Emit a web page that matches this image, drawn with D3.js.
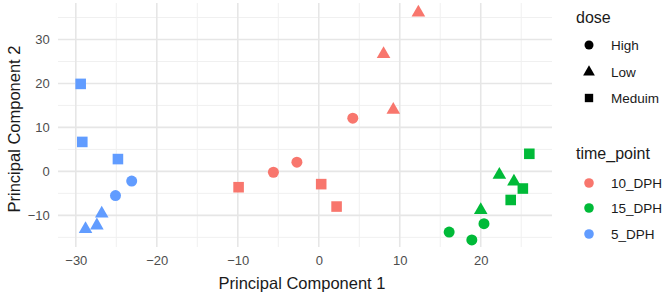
<!DOCTYPE html>
<html><head><meta charset="utf-8">
<script src="https://cdn.jsdelivr.net/npm/d3@7"></script>
<style>body{margin:0;background:#fff}svg{display:block;font-family:"Liberation Sans",Arial,sans-serif}</style>
</head><body><svg id="c" width="669" height="301"></svg>
<script>
const pc1 = [-29.4,-29.2,-24.8,-23.1,-25.1,-26.8,-27.4,-28.8, -9.9,-5.6,-2.7,0.3,2.2,4.2,9.2,8.0,12.3, 16.1,18.9,20.4,20.0,22.3,24.1,25.2,23.7,26.0];
const pc2 = [19.9,6.7,2.8,-2.2,-5.5,-9.6,-12.3,-13.1, -3.6,-0.2,2.1,-2.9,-8.0,12.1,14.0,26.7,36.1, -13.8,-15.6,-11.9,-8.8,-0.8,-2.3,-3.9,-6.5,4.0];
const dose = ["Meduim","Meduim","Meduim","High","High","Low","Low","Low",
  "Meduim","High","High","Meduim","Meduim","High","Low","Low","Low",
  "High","High","High","Low","Low","Low","Meduim","Meduim","Meduim"];
const timePoint = ["5_DPH","5_DPH","5_DPH","5_DPH","5_DPH","5_DPH","5_DPH","5_DPH",
  "10_DPH","10_DPH","10_DPH","10_DPH","10_DPH","10_DPH","10_DPH","10_DPH","10_DPH",
  "15_DPH","15_DPH","15_DPH","15_DPH","15_DPH","15_DPH","15_DPH","15_DPH","15_DPH"];
const doseLevels = ["High","Low","Meduim"];
const timeLevels = ["10_DPH","15_DPH","5_DPH"];
const timeColors = ["#F8766D","#00BA38","#619CFF"];
const xTicks = [-30,-20,-10,0,10,20];
const yTicks = [-10,0,10,20,30];

const svg = d3.select("#c");
const L=58, R=552, T=3, B=247;
const x = d3.scaleLinear().domain([-32.2,28.8]).range([L,R]);
const y = d3.scaleLinear().domain([-17.2,38.3]).range([B,T]);
const color = d3.scaleOrdinal().domain(timeLevels).range(timeColors);
const shape = d3.scaleOrdinal().domain(doseLevels).range([d3.symbolCircle,d3.symbolTriangle,d3.symbolSquare]);
const sizes = {High:95, Low:80, Meduim:112};

const g = svg.append("g");
const xMinor = [-25,-15,-5,5,15,25];
const yMinor = [-15,-5,5,15,25,35];
g.selectAll(".xm").data(xMinor).join("line").attr("x1",d=>x(d)).attr("x2",d=>x(d)).attr("y1",T).attr("y2",B).attr("stroke","#f0f0f0").attr("stroke-width",1);
g.selectAll(".ym").data(yMinor).join("line").attr("y1",d=>y(d)).attr("y2",d=>y(d)).attr("x1",L).attr("x2",R).attr("stroke","#f0f0f0").attr("stroke-width",1);
g.selectAll(".xM").data(xTicks).join("line").attr("x1",d=>x(d)).attr("x2",d=>x(d)).attr("y1",T).attr("y2",B).attr("stroke","#e6e6e6").attr("stroke-width",1.6);
g.selectAll(".yM").data(yTicks).join("line").attr("y1",d=>y(d)).attr("y2",d=>y(d)).attr("x1",L).attr("x2",R).attr("stroke","#e6e6e6").attr("stroke-width",1.6);

const fmt = d=>d3.format("")(d).replace("-","\u2212");
const xa = svg.append("g").attr("transform",`translate(0,${B+4})`).call(d3.axisBottom(x).tickValues(xTicks).tickSize(0).tickFormat(fmt));
const ya = svg.append("g").attr("transform",`translate(${L-4},0)`).call(d3.axisLeft(y).tickValues(yTicks).tickSize(0).tickFormat(fmt));
[xa,ya].forEach(a=>{a.select(".domain").remove();a.selectAll("text").attr("fill","#4d4d4d").style("font-size","13px").style("font-family","Liberation Sans, Arial, sans-serif");});
xa.selectAll("text").attr("dy","0.85em");
ya.selectAll("text").attr("dx","-0.1em");

svg.append("text").attr("x",(L+R)/2 - 3).attr("y",289).attr("text-anchor","middle").style("font-size","16.5px").attr("fill","#1a1a1a").text("Principal Component 1");
svg.append("text").attr("transform",`translate(20,${(T+B)/2 + 4}) rotate(-90)`).attr("text-anchor","middle").style("font-size","16.5px").attr("fill","#1a1a1a").text("Principal Component 2");

const idx = d3.range(pc1.length);
svg.append("g").selectAll("path").data(idx).join("path")
  .attr("transform",i=>`translate(${x(pc1[i])},${y(pc2[i])})`)
  .attr("d",i=>d3.symbol(shape(dose[i]),sizes[dose[i]])())
  .attr("fill",i=>color(timePoint[i]));

const lg = svg.append("g");
lg.append("text").attr("x",576).attr("y",23).style("font-size","16px").attr("fill","#1a1a1a").text("dose");
const ly1 = [45,72,98];
doseLevels.forEach((d,i)=>{
  lg.append("path").attr("transform",`translate(589,${ly1[i]})`).attr("d",d3.symbol(shape(d),{High:64,Low:60,Meduim:70}[d])()).attr("fill","#000");
  lg.append("text").attr("x",611).attr("y",ly1[i]+5).style("font-size","13.5px").attr("fill","#1a1a1a").text(d);
});
lg.append("text").attr("x",576).attr("y",159).style("font-size","16px").attr("fill","#1a1a1a").text("time_point");
const ly2 = [183,208,234];
timeLevels.forEach((d,i)=>{
  lg.append("path").attr("transform",`translate(589,${ly2[i]})`).attr("d",d3.symbol(d3.symbolCircle,72)()).attr("fill",color(d));
  lg.append("text").attr("x",611).attr("y",ly2[i]+5).style("font-size","13.5px").attr("fill","#1a1a1a").text(d);
});
</script></body></html>
